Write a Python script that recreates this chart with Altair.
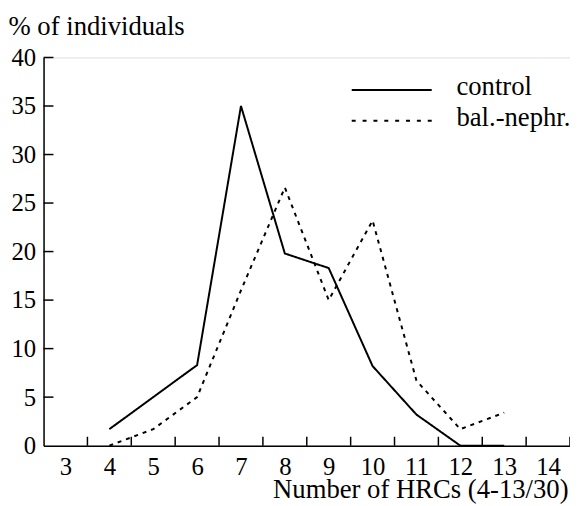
import altair as alt
import pandas as pd

# ---- data ----
hrc_counts = [4, 5, 6, 7, 8, 9, 10, 11, 12, 13]
control_pct = [1.7, 5.0, 8.3, 35.0, 19.8, 18.3, 8.2, 3.2, 0.0, 0.0]
balneph_pct = [0.0, 1.7, 5.0, 16.0, 26.6, 15.0, 23.2, 6.7, 1.7, 3.4]
series_names = ["control", "bal.-nephr."]
x_label_values = [3, 4, 5, 6, 7, 8, 9, 10, 11, 12, 13, 14]
x_tick_marks = [3.5, 4.5, 5.5, 6.5, 7.5, 8.5, 9.5, 10.5, 11.5, 12.5, 13.5, 14.5]
y_values = [0, 5, 10, 15, 20, 25, 30, 35, 40]

W, H = 533, 393
FONT = "Liberation Serif"
FS_TICK = 25
FS_TEXT = 27

rows = []
for name, vals in zip(series_names, [control_pct, balneph_pct]):
    for x, v in zip(hrc_counts, vals):
        rows.append({"x": x, "y": v, "series": name})
df = pd.DataFrame(rows)

xscale = alt.Scale(domain=[2.5, 14.5], nice=False, zero=False)
yscale = alt.Scale(domain=[0, 40], nice=False)

lines = alt.Chart(df).mark_line(color="black", strokeWidth=2).encode(
    x=alt.X("x:Q", scale=xscale,
            axis=alt.Axis(values=x_label_values, tickSize=0, labelPadding=9,
                          labelFontSize=FS_TICK, labelFont=FONT, labelColor="black",
                          labelFlush=False, labelOverlap=False, grid=False,
                          domainColor="black", domainWidth=1.5,
                          title="Number of HRCs (4-13/30)", titleFont=FONT,
                          titleFontSize=FS_TEXT, titleFontWeight="normal",
                          titleColor="black", titleAlign="right",
                          titleBaseline="alphabetic", titleX=531, titleY=52)),
    y=alt.Y("y:Q", scale=yscale,
            axis=alt.Axis(values=y_values, tickSize=0, labelPadding=8,
                          labelFontSize=FS_TICK, labelFont=FONT, labelColor="black",
                          labelFlush=False, labelOverlap=False, grid=False,
                          domainColor="black", domainWidth=1.5,
                          title="% of individuals", titleFont=FONT,
                          titleFontSize=FS_TEXT, titleFontWeight="normal",
                          titleColor="black", titleAngle=0, titleAlign="left",
                          titleBaseline="alphabetic", titleX=-36, titleY=-23)),
    strokeDash=alt.StrokeDash("series:N",
                              scale=alt.Scale(domain=series_names, range=[[1, 0], [4, 5]]),
                              legend=None),
    order="x:Q",
)

xticks = alt.Chart(pd.DataFrame({"x": x_tick_marks})).mark_rule(
    color="black", strokeWidth=1.5).encode(
    x=alt.X("x:Q", scale=xscale), y=alt.value(H), y2=alt.value(H - 9))

yticks = alt.Chart(pd.DataFrame({"y": y_values[1:]})).mark_rule(
    color="black", strokeWidth=1.5).encode(
    y=alt.Y("y:Q", scale=yscale), x=alt.value(0), x2=alt.value(10))

leg_solid = alt.Chart(pd.DataFrame({"label": [series_names[0]]})).mark_rule(
    color="black", strokeWidth=2).encode(
    x=alt.value(312), x2=alt.value(393), y=alt.value(33))
leg_dash = alt.Chart(pd.DataFrame({"label": [series_names[1]]})).mark_rule(
    color="black", strokeWidth=2, strokeDash=[4, 7]).encode(
    x=alt.value(312), x2=alt.value(393), y=alt.value(64))
leg_t1 = alt.Chart(pd.DataFrame({"label": [series_names[0]]})).mark_text(
    align="left", baseline="alphabetic", font=FONT, fontSize=FS_TEXT, color="black").encode(
    x=alt.value(418), y=alt.value(38), text="label:N")
leg_t2 = alt.Chart(pd.DataFrame({"label": [series_names[1]]})).mark_text(
    align="left", baseline="alphabetic", font=FONT, fontSize=FS_TEXT, color="black").encode(
    x=alt.value(418), y=alt.value(69), text="label:N")

chart = alt.layer(lines, xticks, yticks, leg_solid, leg_dash, leg_t1, leg_t2).properties(
    width=W, height=H,
    autosize="none",
    padding={"left": 36, "top": 47, "right": 0, "bottom": 58},
).configure_view(stroke=None).configure(background="white")

chart.save("out.html", embed_options={"renderer": "svg", "actions": False})
